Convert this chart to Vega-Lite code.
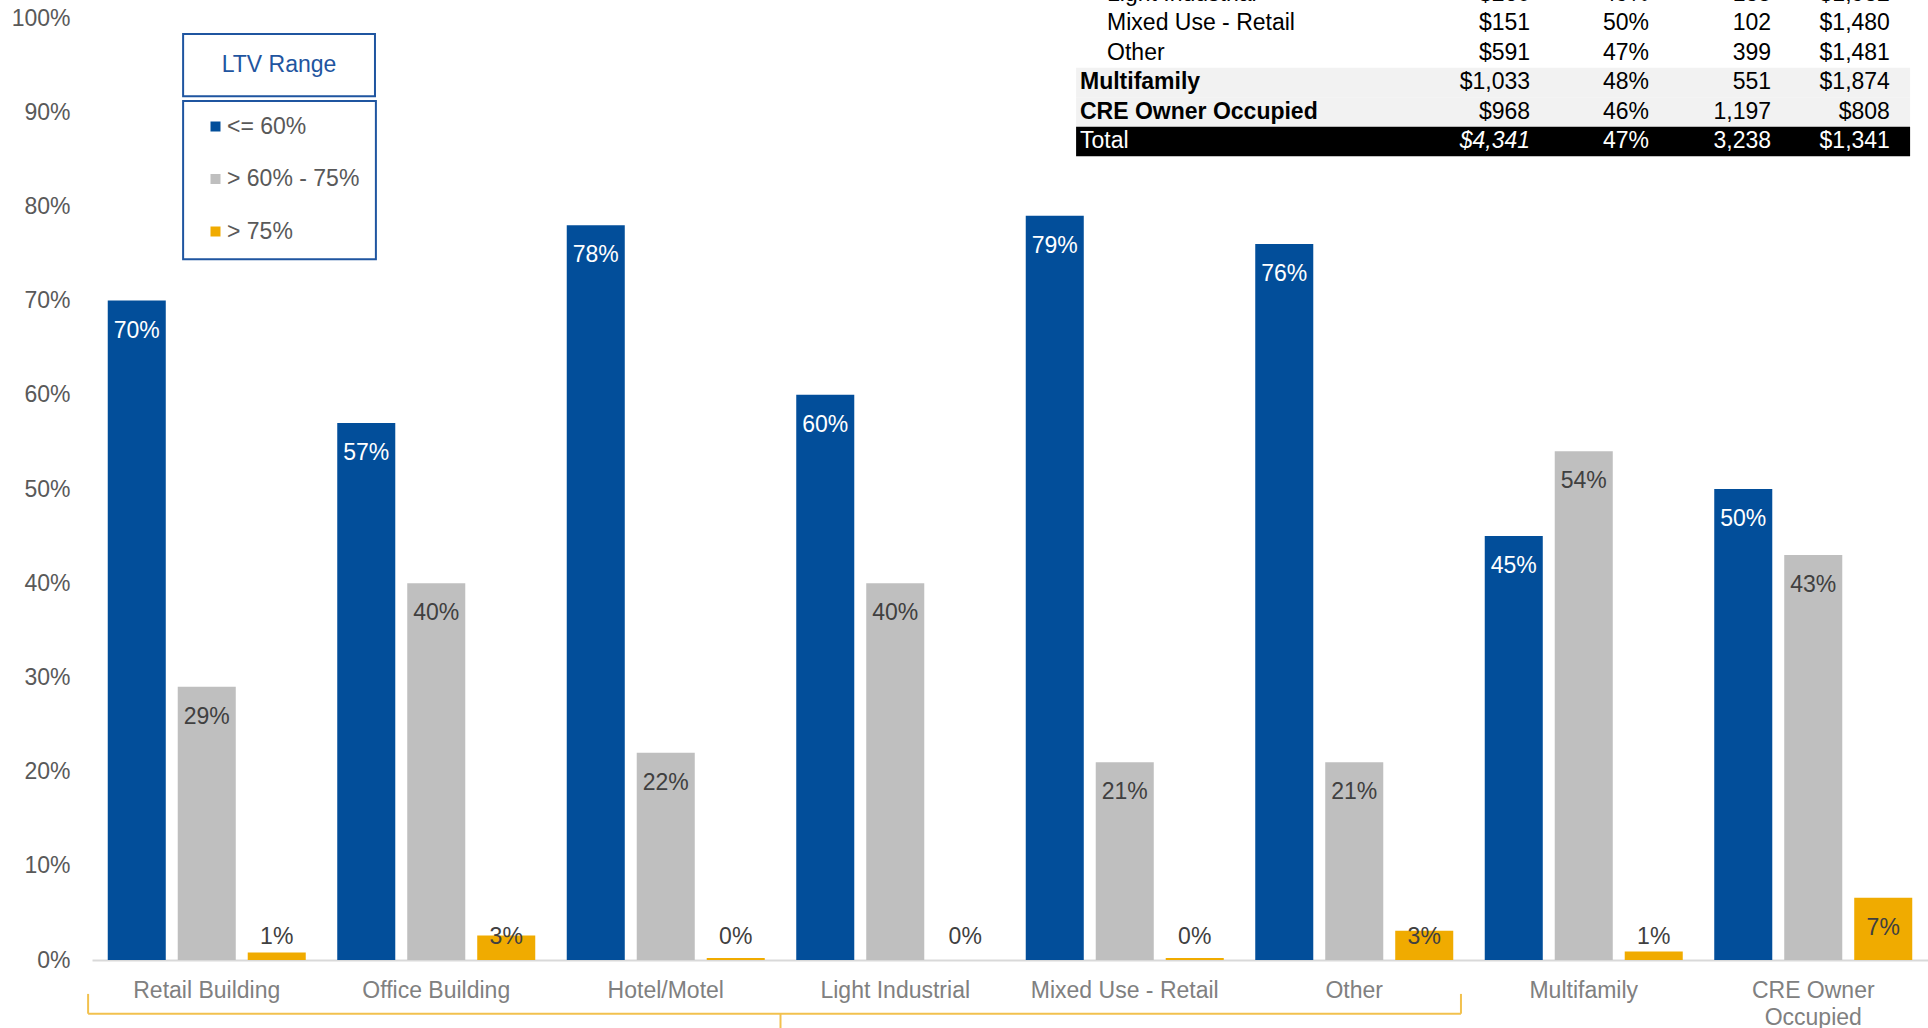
{
  "$schema": "https://vega.github.io/schema/vega-lite/v6.json",
  "width": 1836,
  "height": 942,
  "autosize": {"type": "none"},
  "padding": {"left": 92, "top": 18, "right": 0, "bottom": 68},
  "background": "white",
  "config": {
    "font": "Liberation Sans",
    "view": {"stroke": null},
    "text": {"font": "Liberation Sans"}
  },
  "datasets": {
    "bars": [
      {"cat": "Retail Building", "range": "<= 60%", "value": 0.70},
      {"cat": "Retail Building", "range": "> 60% - 75%", "value": 0.29},
      {"cat": "Retail Building", "range": "> 75%", "value": 0.008},
      {"cat": "Office Building", "range": "<= 60%", "value": 0.57},
      {"cat": "Office Building", "range": "> 60% - 75%", "value": 0.40},
      {"cat": "Office Building", "range": "> 75%", "value": 0.026},
      {"cat": "Hotel/Motel", "range": "<= 60%", "value": 0.78},
      {"cat": "Hotel/Motel", "range": "> 60% - 75%", "value": 0.22},
      {"cat": "Hotel/Motel", "range": "> 75%", "value": 0.002},
      {"cat": "Light Industrial", "range": "<= 60%", "value": 0.60},
      {"cat": "Light Industrial", "range": "> 60% - 75%", "value": 0.40},
      {"cat": "Light Industrial", "range": "> 75%", "value": 0.0},
      {"cat": "Mixed Use - Retail", "range": "<= 60%", "value": 0.79},
      {"cat": "Mixed Use - Retail", "range": "> 60% - 75%", "value": 0.21},
      {"cat": "Mixed Use - Retail", "range": "> 75%", "value": 0.002},
      {"cat": "Other", "range": "<= 60%", "value": 0.76},
      {"cat": "Other", "range": "> 60% - 75%", "value": 0.21},
      {"cat": "Other", "range": "> 75%", "value": 0.031},
      {"cat": "Multifamily", "range": "<= 60%", "value": 0.45},
      {"cat": "Multifamily", "range": "> 60% - 75%", "value": 0.54},
      {"cat": "Multifamily", "range": "> 75%", "value": 0.009},
      {"cat": "CRE Owner Occupied", "range": "<= 60%", "value": 0.50},
      {"cat": "CRE Owner Occupied", "range": "> 60% - 75%", "value": 0.43},
      {"cat": "CRE Owner Occupied", "range": "> 75%", "value": 0.066}
    ],
    "table": [
      {"row": "Light Industrial", "level": "sub", "balance": "$260", "pct": "49%", "count": "135", "avg": "$1,932"},
      {"row": "Mixed Use - Retail", "level": "sub", "balance": "$151", "pct": "50%", "count": "102", "avg": "$1,480"},
      {"row": "Other", "level": "sub", "balance": "$591", "pct": "47%", "count": "399", "avg": "$1,481"},
      {"row": "Multifamily", "level": "group", "balance": "$1,033", "pct": "48%", "count": "551", "avg": "$1,874"},
      {"row": "CRE Owner Occupied", "level": "group", "balance": "$968", "pct": "46%", "count": "1,197", "avg": "$808"},
      {"row": "Total", "level": "total", "balance": "$4,341", "pct": "47%", "count": "3,238", "avg": "$1,341"}
    ],
    "one": [{"k": 1}]
  },
  "layer": [
    {
      "data": {"name": "bars"},
      "layer": [
        {
          "mark": {"type": "bar"},
          "encoding": {
            "x": {
              "field": "cat", "type": "nominal", "sort": null,
              "scale": {
                "domain": ["Retail Building", "Office Building", "Hotel/Motel", "Light Industrial", "Mixed Use - Retail", "Other", "Multifamily", "CRE Owner Occupied"],
                "paddingInner": 0, "paddingOuter": 0
              },
              "axis": {
                "title": null, "orient": "bottom", "labelAngle": 0,
                "domain": true, "domainColor": "#D9D9D9", "domainWidth": 2,
                "ticks": false, "grid": false, "labelLimit": 400,
                "labelFontSize": 23, "labelColor": "#808080", "labelPadding": 19,
                "labelLineHeight": 27,
                "labelExpr": "datum.value == 'CRE Owner Occupied' ? ['CRE Owner', 'Occupied'] : datum.value"
              }
            },
            "xOffset": {
              "field": "range", "type": "nominal",
              "scale": {"domain": ["<= 60%", "> 60% - 75%", "> 75%"], "paddingInner": 0.171, "paddingOuter": 0.225}
            },
            "y": {
              "field": "value", "type": "quantitative",
              "scale": {"domain": [0, 1], "nice": false},
              "axis": {
                "title": null, "orient": "left", "format": ".0%",
                "values": [0, 0.1, 0.2, 0.3, 0.4, 0.5, 0.6, 0.7, 0.8, 0.9, 1],
                "domain": false, "ticks": false, "grid": false,
                "labelFontSize": 23, "labelColor": "#595959", "labelPadding": 22
              }
            },
            "color": {
              "field": "range", "type": "nominal",
              "scale": {"domain": ["<= 60%", "> 60% - 75%", "> 75%"], "range": ["#024E9A", "#BFBFBF", "#F0AB00"]},
              "legend": {
                "title": null, "orient": "none", "legendX": 91, "legendY": 83,
                "direction": "vertical", "symbolType": "square", "symbolSize": 100,
                "symbolStrokeWidth": 0, "symbolOffset": 7,
                "labelFontSize": 23, "labelColor": "#595959", "labelOffset": 0,
                "rowPadding": 28.5, "padding": 14
              }
            }
          }
        },
        {
          "transform": [{"filter": "datum.value >= 0.05"}],
          "mark": {"type": "text", "baseline": "middle", "align": "center", "dy": 30, "fontSize": 23},
          "encoding": {
            "x": {"field": "cat", "type": "nominal", "sort": null},
            "xOffset": {"field": "range", "type": "nominal"},
            "y": {"field": "value", "type": "quantitative"},
            "text": {"field": "value", "type": "quantitative", "format": ".0%"},
            "fill": {"condition": {"test": "datum.range === '<= 60%'", "value": "white"}, "value": "#404040"}
          }
        },
        {
          "transform": [{"filter": "datum.value < 0.05"}],
          "mark": {"type": "text", "baseline": "middle", "align": "center", "dy": -23, "fontSize": 23, "fill": "#404040"},
          "encoding": {
            "x": {"field": "cat", "type": "nominal", "sort": null},
            "xOffset": {"field": "range", "type": "nominal"},
            "y": {"datum": 0, "type": "quantitative"},
            "text": {"field": "value", "type": "quantitative", "format": ".0%"}
          }
        }
      ]
    },
    {
      "data": {"name": "one"},
      "layer": [
        {
          "mark": {"type": "rect", "fill": "white", "stroke": "#1F55A0", "strokeWidth": 2},
          "encoding": {
            "x": {"datum": 0.397, "type": "quantitative", "scale": {"domain": [0, 8], "nice": false, "zero": false}, "axis": null},
            "x2": {"datum": 1.233},
            "y": {"datum": 0.917, "type": "quantitative", "scale": {"domain": [0, 1], "nice": false}, "axis": null},
            "y2": {"datum": 0.983}
          }
        },
        {
          "mark": {"type": "rect", "fill": null, "stroke": "#1F55A0", "strokeWidth": 2},
          "encoding": {
            "x": {"datum": 0.397, "type": "quantitative"},
            "x2": {"datum": 1.237},
            "y": {"datum": 0.744, "type": "quantitative"},
            "y2": {"datum": 0.912}
          }
        },
        {
          "mark": {"type": "text", "text": "LTV Range", "fontSize": 23, "fill": "#1F55A0", "align": "center", "baseline": "middle"},
          "encoding": {
            "x": {"datum": 0.815, "type": "quantitative"},
            "y": {"datum": 0.95, "type": "quantitative"}
          }
        },
        {
          "mark": {"type": "rule", "stroke": "#F2C14E", "strokeWidth": 2},
          "encoding": {
            "x": {"datum": -0.017, "type": "quantitative"},
            "x2": {"datum": 5.965},
            "y": {"datum": -0.057, "type": "quantitative"}
          }
        },
        {
          "mark": {"type": "rule", "stroke": "#F2C14E", "strokeWidth": 2},
          "encoding": {
            "x": {"datum": -0.017, "type": "quantitative"},
            "y": {"datum": -0.057, "type": "quantitative"},
            "y2": {"datum": -0.036}
          }
        },
        {
          "mark": {"type": "rule", "stroke": "#F2C14E", "strokeWidth": 2},
          "encoding": {
            "x": {"datum": 5.965, "type": "quantitative"},
            "y": {"datum": -0.057, "type": "quantitative"},
            "y2": {"datum": -0.036}
          }
        },
        {
          "mark": {"type": "rule", "stroke": "#F2C14E", "strokeWidth": 2},
          "encoding": {
            "x": {"datum": 3.0, "type": "quantitative"},
            "y": {"datum": -0.057, "type": "quantitative"},
            "y2": {"datum": -0.085}
          }
        }
      ]
    },
    {
      "data": {"name": "table"},
      "layer": [
        {
          "transform": [{"filter": "datum.level !== 'sub'"}],
          "mark": {"type": "rect"},
          "encoding": {
            "x": {"datum": 4.288, "type": "quantitative", "scale": {"domain": [0, 8], "nice": false, "zero": false}, "axis": null},
            "x2": {"datum": 7.922},
            "y": {
              "field": "row", "type": "nominal", "sort": null,
              "scale": {"type": "band", "domain": ["Light Industrial", "Mixed Use - Retail", "Other", "Multifamily", "CRE Owner Occupied", "Total"], "range": [-38.85, 138.15], "paddingInner": 0, "paddingOuter": 0},
              "axis": null
            },
            "fill": {"condition": {"test": "datum.level === 'total'", "value": "#000000"}, "value": "#F2F2F2"}
          }
        },
        {
          "transform": [{"filter": "datum.level === 'sub'"}],
          "mark": {"type": "text", "align": "left", "baseline": "middle", "fontSize": 23, "fill": "#000000"},
          "encoding": {
            "x": {"datum": 4.423, "type": "quantitative"},
            "y": {"field": "row", "type": "nominal", "sort": null},
            "text": {"field": "row"}
          }
        },
        {
          "transform": [{"filter": "datum.level === 'group'"}],
          "mark": {"type": "text", "align": "left", "baseline": "middle", "fontSize": 23, "fontWeight": "bold", "fill": "#000000"},
          "encoding": {
            "x": {"datum": 4.305, "type": "quantitative"},
            "y": {"field": "row", "type": "nominal", "sort": null},
            "text": {"field": "row"}
          }
        },
        {
          "transform": [{"filter": "datum.level === 'total'"}],
          "mark": {"type": "text", "align": "left", "baseline": "middle", "fontSize": 23, "fill": "white"},
          "encoding": {
            "x": {"datum": 4.305, "type": "quantitative"},
            "y": {"field": "row", "type": "nominal", "sort": null},
            "text": {"field": "row"}
          }
        },
        {
          "transform": [{"filter": "datum.level !== 'total'"}],
          "mark": {"type": "text", "align": "right", "baseline": "middle", "fontSize": 23, "fill": "#000000"},
          "encoding": {
            "x": {"datum": 6.266, "type": "quantitative"},
            "y": {"field": "row", "type": "nominal", "sort": null},
            "text": {"field": "balance"}
          }
        },
        {
          "transform": [{"filter": "datum.level === 'total'"}],
          "mark": {"type": "text", "align": "right", "baseline": "middle", "fontSize": 23, "fontStyle": "italic", "fill": "white"},
          "encoding": {
            "x": {"datum": 6.266, "type": "quantitative"},
            "y": {"field": "row", "type": "nominal", "sort": null},
            "text": {"field": "balance"}
          }
        },
        {
          "mark": {"type": "text", "align": "right", "baseline": "middle", "fontSize": 23},
          "encoding": {
            "x": {"datum": 6.784, "type": "quantitative"},
            "y": {"field": "row", "type": "nominal", "sort": null},
            "text": {"field": "pct"},
            "fill": {"condition": {"test": "datum.level === 'total'", "value": "white"}, "value": "#000000"}
          }
        },
        {
          "mark": {"type": "text", "align": "right", "baseline": "middle", "fontSize": 23},
          "encoding": {
            "x": {"datum": 7.316, "type": "quantitative"},
            "y": {"field": "row", "type": "nominal", "sort": null},
            "text": {"field": "count"},
            "fill": {"condition": {"test": "datum.level === 'total'", "value": "white"}, "value": "#000000"}
          }
        },
        {
          "mark": {"type": "text", "align": "right", "baseline": "middle", "fontSize": 23},
          "encoding": {
            "x": {"datum": 7.834, "type": "quantitative"},
            "y": {"field": "row", "type": "nominal", "sort": null},
            "text": {"field": "avg"},
            "fill": {"condition": {"test": "datum.level === 'total'", "value": "white"}, "value": "#000000"}
          }
        }
      ]
    }
  ],
  "resolve": {"scale": {"x": "independent", "y": "independent"}}
}
